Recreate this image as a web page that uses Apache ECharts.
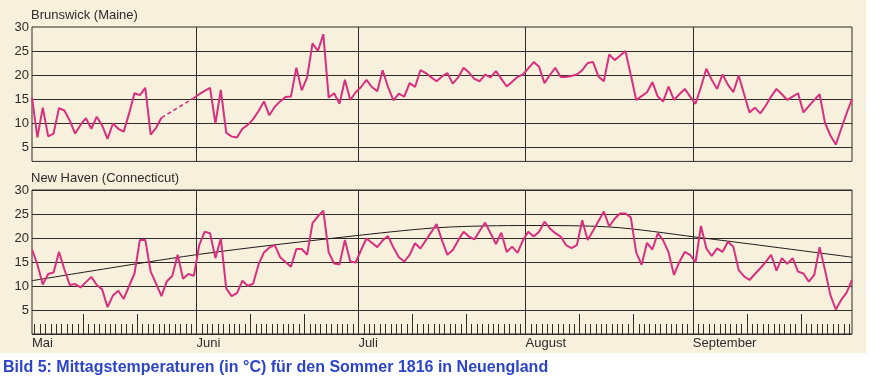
<!DOCTYPE html>
<html><head><meta charset="utf-8">
<script src="https://cdn.jsdelivr.net/npm/echarts@6/dist/echarts.min.js"></script>
<style>html,body{margin:0;padding:0;background:#fff}#c{width:870px;height:385px}</style>
</head><body><div id="c"></div>
<script>
// Daily noon temperatures (°C), 1 May – 30 Sep 1816 (index 0 = 1 May)
const brunswick = [
  15.3, 7, 13.2, 7.2, 7.8, 13.1, 12.6, 10.5, 7.8, 9.6,
  11, 8.8, 11.3, 9.5, 6.7, 9.9, 8.8, 8.2, 12, 16.2,
  15.8, 17.3, 7.6, 9, 11.1, null, null, null, null, null,
  15.2, 16, 16.7, 17.3, 9.9, 16.9, 8, 7.2, 7, 8.8,
  9.6, 10.8, 12.5, 14.5, 11.6, 13.4, 14.5, 15.4, 15.5, 21.5,
  16.8, 19.5, 26.6, 25, 28.5, 15.3, 16.2, 14, 19, 14.8,
  16.4, 17.5, 19, 17.5, 16.6, 21, 17.5, 14.7, 16.1, 15.5,
  18.3, 17.5, 21, 20.4, 19.5, 18.7, 19.7, 20.4, 18.2, 19.5,
  21.5, 20.5, 19.2, 18.7, 20.1, 19.5, 20.8, 19.2, 17.6, 18.6,
  19.6, 20.1, 21.4, 22.7, 21.7, 18.3, 20, 21.5, 19.6, 19.6,
  19.8, 20.1, 21, 22.5, 22.7, 19.7, 18.7, 24.3, 23.1, 24,
  25, 20, 14.8, 15.6, 16.4, 18.5, 15.5, 14.5, 17.6, 14.8,
  16, 17.1, 15.5, 14, 17.5, 21.3, 19, 17.1, 20.1, 18,
  16.4, 19.9, 16, 12.2, 13.2, 12, 13.6, 15.5, 17.1, 16,
  14.8, 15.5, 16.2, 12.2, 13.5, 14.8, 16, 10, 7.4, 5.5,
  8.8, 12, 15
];
const newHaven = [
  17.6, 14.5, 10.3, 12.5, 12.8, 17.1, 13.5, 10.2, 10.4, 9.7,
  10.8, 11.9, 10.2, 9.3, 5.6, 8, 9, 7.3, 10, 12.6,
  19.6, 19.6, 13, 10.5, 7.9, 11, 12.1, 16.5, 11.5, 12.5,
  12.1, 18.5, 21.3, 21, 15.8, 19.9, 9.5, 7.9, 8.5, 11.1,
  10, 10.5, 14.5, 17, 18, 18.5, 16, 15, 14, 17.7,
  17.7, 16.5, 23.1, 24.5, 25.7, 17, 14.7, 14.5, 19.6, 15.1,
  14.9, 17.5, 19.9, 19, 18.1, 19.5, 20.4, 18, 16, 15.1,
  16.5, 18.9, 17.8, 19.5, 21.2, 22.9, 19.5, 16.5, 17.5, 19.5,
  21.3, 20.3, 19.7, 21.5, 23.2, 21, 18.75, 21.1, 17.1, 18.2,
  16.9, 19.5, 21.3, 20.3, 21.3, 23.4, 22, 21, 20.3, 18.5,
  17.9, 18.5, 23.7, 19.6, 21.5, 23.5, 25.5, 22.4, 24, 25.1,
  25.1, 24.3, 17, 14.4, 19, 17.6, 21, 19.5, 17, 12.3,
  15, 17.1, 16.5, 14.9, 22.5, 17.85, 16.25, 17.85, 17.1, 19.2,
  18.2, 13.3, 12, 11.25, 12.5, 13.7, 15, 16.5, 13.2, 15.8,
  14.6, 15.8, 13, 12.6, 10.9, 12.3, 18.1, 13.3, 8.1, 5.1,
  7.1, 8.6, 11.25
];
// Long-term normal curve for New Haven (day index, °C)
const normalDays  = [0, 31, 61, 76, 92, 107, 123, 152];
const normalTemps = [11.1, 16.6, 20.6, 22.2, 22.6, 22.3, 20.2, 16.0];
// Calendar
const monthNames = ['Mai', 'Juni', 'Juli', 'August', 'September'];
const monthDays = [31, 30, 31, 31, 30];
const yTicks = [5, 10, 15, 20, 25, 30];

const FONT = '"Liberation Sans", Arial, sans-serif';
const INK = '#2e2b28';
const PINK = '#d8307e';

// month boundaries (between last day of month and first of next)
const monthStart = [];
let acc = 0;
monthDays.forEach(d => { monthStart.push(acc); acc += d; });
const boundaries = monthStart.slice(1).map(s => s - 0.5);
const labelPos = [0].concat(boundaries);
const dayTicks = [];
for (let i = 0; i < acc - 1; i++) dayTicks.push(i + 0.5);
const longTicks = [];
monthStart.forEach(s => { longTicks.push(s + 9.5, s + 19.5); });

// dashed bridge over the missing Brunswick days
let gapA = -1, gapB = -1;
for (let i = 1; i < brunswick.length; i++) {
  if (brunswick[i] === null && brunswick[i - 1] !== null && gapA < 0) gapA = i - 1;
  if (brunswick[i] !== null && brunswick[i - 1] === null) gapB = i;
}
const bridge = [[gapA, brunswick[gapA]], [gapB, brunswick[gapB]]];

const toXY = arr => arr.map((v, i) => [i, v]);
const vLines = {
  silent: true, symbol: 'none', label: { show: false },
  lineStyle: { color: INK, width: 1, type: 'solid' },
  data: boundaries.map(b => ({ xAxis: b }))
};
const hLinesTop = {
  silent: true, symbol: 'none', label: { show: false },
  lineStyle: { color: INK, width: 1, type: 'solid' },
  data: yTicks.slice(0, -1).map(v => ({ yAxis: v }))
};

const chart = echarts.init(document.getElementById('c'), null, { renderer: 'canvas', width: 870, height: 385 });
const baseX = {
  type: 'value', min: 0, max: acc - 1,
  axisLine: { show: false }, axisTick: { show: false }, axisLabel: { show: false }, splitLine: { show: false }
};
const option = {
  animation: false,
  backgroundColor: '#ffffff',
  graphic: [{ type: 'rect', z: -100, silent: true, shape: { x: 0, y: 0, width: 866, height: 353 }, style: { fill: '#f6f0dd' } }],
  title: [
    { text: 'Brunswick (Maine)', left: 31, top: 9, padding: 0, textStyle: { fontFamily: FONT, fontSize: 13, fontWeight: 'normal', color: INK } },
    { text: 'New Haven (Connecticut)', left: 31, top: 172, padding: 0, textStyle: { fontFamily: FONT, fontSize: 13, fontWeight: 'normal', color: INK } },
    { text: 'Bild 5: Mittagstemperaturen (in °C) für den Sommer 1816 in Neuengland', left: 3, top: 360, padding: 0, textStyle: { fontFamily: FONT, fontSize: 16, fontWeight: 'bold', color: '#2c45c8' } }
  ],
  grid: [
    { left: 32, top: 27, width: 820, height: 134.4, show: true, borderColor: INK, borderWidth: 1, backgroundColor: 'transparent' },
    { left: 32, top: 190, width: 820, height: 144, show: true, borderColor: INK, borderWidth: 1, backgroundColor: 'transparent' }
  ],
  xAxis: [
    Object.assign({}, baseX, { gridIndex: 0 }),
    Object.assign({}, baseX, {
      gridIndex: 1, position: 'bottom',
      axisTick: { show: true, inside: true, length: 10, customValues: dayTicks, lineStyle: { color: INK, width: 1 } },
      axisLabel: {
        show: true, customValues: labelPos, align: 'left', margin: 3,
        fontFamily: FONT, fontSize: 13, color: INK,
        formatter: v => monthNames[labelPos.indexOf(v)] || ''
      }
    }),
    Object.assign({}, baseX, {
      gridIndex: 1, position: 'bottom', offset: 0,
      axisTick: { show: true, inside: true, length: 20, customValues: longTicks, lineStyle: { color: INK, width: 1 } }
    })
  ],
  yAxis: [
    {
      gridIndex: 0, type: 'value', min: 2, max: 30,
      axisLine: { show: false }, axisTick: { show: false }, splitLine: { show: false },
      axisLabel: { customValues: yTicks, margin: 3, fontFamily: FONT, fontSize: 13, color: INK }
    },
    {
      gridIndex: 1, type: 'value', min: 0, max: 30, interval: 5,
      axisLine: { show: false }, axisTick: { show: false },
      splitLine: { show: true, lineStyle: { color: INK, width: 1 } },
      axisLabel: { showMinLabel: false, margin: 3, fontFamily: FONT, fontSize: 13, color: INK }
    }
  ],
  series: [
    {
      name: 'Brunswick', type: 'line', xAxisIndex: 0, yAxisIndex: 0, data: toXY(brunswick),
      showSymbol: false, connectNulls: false, lineStyle: { color: PINK, width: 2 }, z: 5,
      markLine: Object.assign({}, vLines, { data: vLines.data.concat(hLinesTop.data) })
    },
    {
      name: 'Brunswick gap', type: 'line', xAxisIndex: 0, yAxisIndex: 0, data: bridge,
      showSymbol: false, lineStyle: { color: PINK, width: 1.6, type: [4, 3] }, z: 5
    },
    {
      name: 'Normal', type: 'line', xAxisIndex: 1, yAxisIndex: 1,
      data: normalDays.map((d, i) => [d, normalTemps[i]]),
      showSymbol: false, smooth: 0.3, lineStyle: { color: '#1e1b18', width: 1 }, z: 4
    },
    {
      name: 'New Haven', type: 'line', xAxisIndex: 1, yAxisIndex: 1, data: toXY(newHaven),
      showSymbol: false, lineStyle: { color: PINK, width: 2 }, z: 5,
      markLine: vLines
    }
  ]
};
chart.setOption(option);
</script></body></html>
